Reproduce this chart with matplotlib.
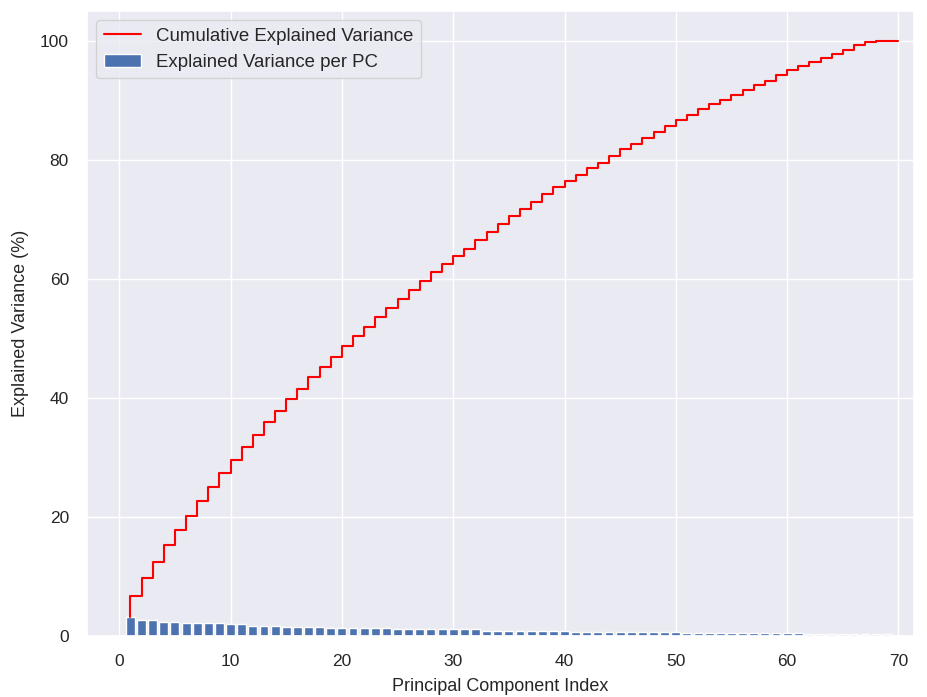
import numpy as np
import matplotlib
matplotlib.use("Agg")
import matplotlib.pyplot as plt
import seaborn as sns

sns.set_theme()
plt.rcParams["font.family"] = ["Liberation Sans", "DejaVu Sans"]
plt.rcParams["xtick.labelsize"] = 12.5
plt.rcParams["ytick.labelsize"] = 12.5
plt.rcParams["axes.labelsize"] = 13
plt.rcParams["legend.fontsize"] = 13.4

# principal components 1..70
pcs = list(range(1, 71))

# explained variance per PC (%)
per_pc = [3.3, 2.8, 2.8, 2.45, 2.45, 2.25, 2.25, 2.25, 2.25, 2.0,
          2.0, 1.8, 1.8, 1.8, 1.6, 1.6, 1.6, 1.6, 1.35, 1.35,
          1.35, 1.35, 1.35, 1.35, 1.2, 1.15, 1.15, 1.15, 1.15, 1.15,
          1.15, 1.15, 0.9, 0.9, 0.9, 0.9, 0.9, 0.9, 0.9, 0.9,
          0.7, 0.7, 0.7, 0.7, 0.7, 0.7, 0.7, 0.7, 0.7, 0.7,
          0.52, 0.52, 0.52, 0.52, 0.52, 0.52, 0.52, 0.52, 0.52, 0.52,
          0.52, 0.35, 0.35, 0.35, 0.35, 0.35, 0.35, 0.35, 0.35, 0.02]

# cumulative explained variance (%)
cumulative = [3.3, 6.8, 9.8, 12.5, 15.3, 17.8, 20.2, 22.7, 25.1, 27.4,
              29.6, 31.7, 33.8, 35.9, 37.9, 39.8, 41.6, 43.5, 45.2, 46.9,
              48.7, 50.5, 52.0, 53.6, 55.2, 56.6, 58.2, 59.7, 61.1, 62.5,
              63.9, 65.1, 66.6, 67.9, 69.2, 70.5, 71.7, 72.9, 74.2, 75.4,
              76.4, 77.5, 78.6, 79.5, 80.7, 81.8, 82.7, 83.6, 84.7, 85.6,
              86.7, 87.5, 88.5, 89.3, 90.1, 90.9, 91.7, 92.6, 93.3, 94.2,
              95.0, 95.7, 96.4, 97.1, 97.7, 98.4, 99.2, 99.8, 100.0, 100.0]

fig = plt.figure(figsize=(9.27, 6.97), dpi=100)
ax = fig.add_axes([87 / 927, 60.7 / 697, 827 / 927, 625.4 / 697])

ax.bar(pcs, per_pc, label="Explained Variance per PC")
ax.step(pcs, cumulative, color="red", label="Cumulative Explained Variance")

ax.set_xlim(-2.9, 71.4)
ax.set_xlabel("Principal Component Index", labelpad=6)
ax.set_ylabel("Explained Variance (%)", labelpad=8)
ax.tick_params(axis="both", pad=7)
ax.legend(loc="upper left")

fig.savefig("out.png", dpi=100)
